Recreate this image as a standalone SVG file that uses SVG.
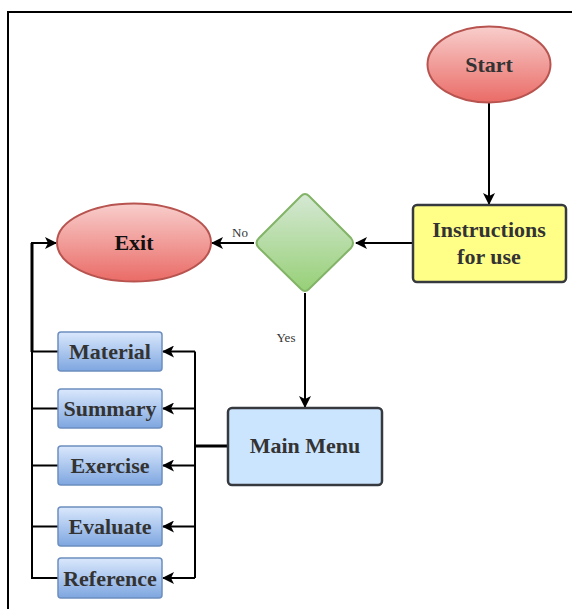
<svg xmlns="http://www.w3.org/2000/svg" width="572" height="609" viewBox="0 0 572 609">
<style>
.t{font-family:'Liberation Serif','Times New Roman','DejaVu Serif',serif;font-weight:700;font-size:22px;fill:#333;text-anchor:middle}
.lbl{font-family:'Liberation Serif','Times New Roman',serif;font-size:13px;fill:#333;text-anchor:middle}
.c{fill:none;stroke:#000;stroke-width:2}
.sub{fill:url(#gB);stroke:#6c8ebf;stroke-width:1.5}
</style>
<defs>
<linearGradient id="gR" x1="0" y1="0" x2="0" y2="1"><stop offset="0" stop-color="#f8cecc"/><stop offset="1" stop-color="#ea6b66"/></linearGradient>
<linearGradient id="gG" x1="0" y1="0" x2="0" y2="1"><stop offset="0" stop-color="#d5e8d4"/><stop offset="1" stop-color="#97d077"/></linearGradient>
<linearGradient id="gB" x1="0" y1="0" x2="0" y2="1"><stop offset="0" stop-color="#dae8fc"/><stop offset="1" stop-color="#7ea6e0"/></linearGradient>
<marker id="ar" viewBox="0 0 12 12" refX="11" refY="6" markerWidth="12" markerHeight="12" markerUnits="userSpaceOnUse" orient="auto">
<path d="M0,0 L12,6 L0,12 L3,6 Z" fill="#000"/>
</marker>
</defs>
<rect x="8" y="12" width="600" height="620" fill="#fff" stroke="#000" stroke-width="2"/>
<g id="connectors">
<path class="c" d="M489,103 V204" marker-end="url(#ar)"/>
<path class="c" d="M413,243 H356" marker-end="url(#ar)"/>
<path class="c" d="M254,243 H212" marker-end="url(#ar)"/>
<path class="c" d="M305,293 V407" marker-end="url(#ar)"/>
<path d="M228,446 H195" fill="none" stroke="#000" stroke-width="3"/>
<path class="c" d="M195,351.5 V578"/>
<path class="c" d="M195,351.5 H163" marker-end="url(#ar)"/>
<path class="c" d="M195,408.5 H163" marker-end="url(#ar)"/>
<path class="c" d="M195,465.5 H163" marker-end="url(#ar)"/>
<path class="c" d="M195,526.5 H163" marker-end="url(#ar)"/>
<path class="c" d="M195,578 H163" marker-end="url(#ar)"/>
<path class="c" d="M58,351.5 H32 M58,408.5 H32 M58,465.5 H32 M58,526.5 H32 M58,578 H32 V351.5"/>
<path d="M32,352 V243" fill="none" stroke="#000" stroke-width="3"/>
<path class="c" d="M31,243 H56" marker-end="url(#ar)"/>
<text class="lbl" x="240" y="237">No</text>
<text class="lbl" x="286" y="342">Yes</text>
</g>
<g id="start">
<ellipse cx="489" cy="64.5" rx="61.5" ry="38" fill="url(#gR)" stroke="#b85450" stroke-width="2"/>
<text class="t" x="489" y="72">Start</text>
</g>
<g id="instructions">
<rect x="413" y="205" width="153" height="77" rx="4" fill="#ffff88" stroke="#36393d" stroke-width="2.5"/>
<text class="t" x="489" y="237">Instructions</text>
<text class="t" x="489" y="264">for use</text>
</g>
<g id="decision">
<path d="M301,196 Q305,192 309,196 L351,238 Q355,243 351,248 L309,289 Q305,293 301,289 L259,248 Q254,243 259,238 Z" fill="url(#gG)" stroke="#82b366" stroke-width="2"/>
</g>
<g id="exit">
<ellipse cx="134" cy="242.5" rx="77" ry="39" fill="url(#gR)" stroke="#b85450" stroke-width="2"/>
<text class="t" x="134" y="250" style="fill:#111">Exit</text>
</g>
<g id="mainmenu">
<rect x="228" y="408" width="154" height="77" rx="4" fill="#cce5ff" stroke="#36393d" stroke-width="2.5"/>
<text class="t" x="305" y="453">Main Menu</text>
</g>
<g id="material">
<rect class="sub" x="58" y="332" width="104" height="39" rx="3"/>
<text class="t" x="110" y="359">Material</text>
</g>
<g id="summary">
<rect class="sub" x="58" y="389" width="104" height="39" rx="3"/>
<text class="t" x="110" y="416">Summary</text>
</g>
<g id="exercise">
<rect class="sub" x="58" y="446" width="104" height="39" rx="3"/>
<text class="t" x="110" y="473">Exercise</text>
</g>
<g id="evaluate">
<rect class="sub" x="58" y="507" width="104" height="39" rx="3"/>
<text class="t" x="110" y="534">Evaluate</text>
</g>
<g id="reference">
<rect class="sub" x="58" y="558" width="104" height="40" rx="3"/>
<text class="t" x="110" y="585.5">Reference</text>
</g>
</svg>
